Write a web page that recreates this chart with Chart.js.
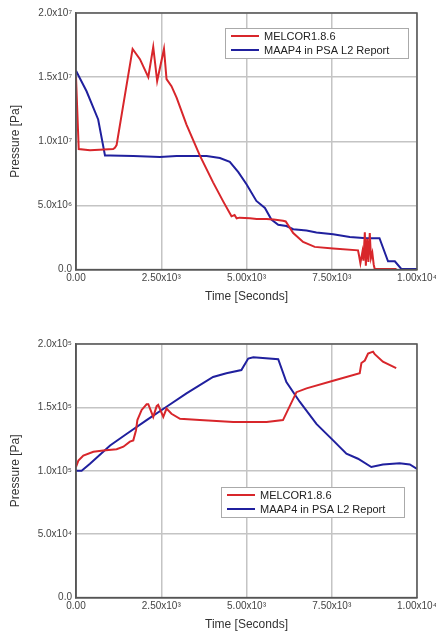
<!DOCTYPE html>
<html>
<head>
<meta charset="utf-8">
<script src="https://cdn.jsdelivr.net/npm/chart.js@4"></script>
<style>
  html, body { margin: 0; padding: 0; background: #fff; }
  .box { position: absolute; left: 0; width: 436px; }
  #top { top: 0; height: 310px; }
  #bottom { top: 320px; height: 314px; }
</style>
</head>
<body>
<div class="box" id="top"><canvas id="chartTop"></canvas></div>
<div class="box" id="bottom"><canvas id="chartBottom"></canvas></div>
<script>
// series names
const seriesNames = ['MELCOR1.8.6', 'MAAP4 in PSA L2 Report'];

// x tick labels (0, 2500, 5000, 7500, 10000)
const xTickValues = [0, 2500, 5000, 7500, 10000];
const xTickLabels = ['0.00', '2.50x10³', '5.00x10³', '7.50x10³', '1.00x10⁴'];

// top chart: pressure [Pa]
const topYTickValues = [0, 5e6, 1e7, 1.5e7, 2e7];
const topYTickLabels = ['0.0', '5.0x10⁶', '1.0x10⁷', '1.5x10⁷', '2.0x10⁷'];

const topMelcorTime = [0, 80, 410, 1090, 1140, 1190, 1660, 1875, 2120, 2265, 2380, 2580, 2655, 2800, 2950,
  3240, 3630, 4020, 4320, 4560, 4650, 4710, 4800, 5100, 5300, 5590, 5800, 6070, 6150, 6370, 6660, 7000, 7540,
  8270, 8300, 8340, 8400, 8430, 8470, 8500, 8540, 8575, 8615, 8650, 8690, 8730, 8760, 9000, 9400];
const topMelcorValue = [1.5e7, 9.4e6, 9.3e6, 9.4e6, 9.5e6, 9.7e6, 1.72e7, 1.64e7, 1.5e7, 1.735e7, 1.47e7, 1.72e7, 1.485e7, 1.43e7, 1.34e7,
  1.13e7, 8.9e6, 6.8e6, 5.3e6, 4.15e6, 4.25e6, 4.0e6, 4.05e6, 4.0e6, 3.95e6, 3.95e6, 3.9e6, 3.8e6, 3.75e6, 2.85e6, 2.15e6, 1.77e6, 1.65e6,
  1.5e6, 1.1e6, 0.5e6, 1.4e6, 0.7e6, 2.9e6, 0.3e6, 2.4e6, 0.6e6, 2.85e6, 0.9e6, 1.3e6, 0.4e6, 0.05e6, 0.05e6, 0.05e6];

const topMaapTime = [0, 310, 650, 850, 1000, 1680, 2460, 2950, 3830, 4220, 4510, 4760, 5000, 5290, 5540, 5730,
  5930, 6170, 6370, 6760, 7050, 7540, 8030, 8520, 8900, 9150, 9350, 9540, 10000];
const topMaapValue = [1.55e7, 1.39e7, 1.17e7, 8.9e6, 8.9e6, 8.85e6, 8.77e6, 8.85e6, 8.85e6, 8.7e6, 8.4e6, 7.6e6, 6.65e6, 5.35e6, 4.8e6, 3.9e6,
  3.5e6, 3.4e6, 3.15e6, 3.05e6, 2.9e6, 2.75e6, 2.55e6, 2.45e6, 2.45e6, 0.65e6, 0.65e6, 0.05e6, 0.05e6];

// bottom chart: pressure [Pa]
const bottomYTickValues = [0, 5e4, 1e5, 1.5e5, 2e5];
const bottomYTickLabels = ['0.0', '5.0x10⁴', '1.0x10⁵', '1.5x10⁵', '2.0x10⁵'];

const bottomMelcorTime = [0, 70, 215, 510, 800, 1190, 1390, 1580, 1680, 1760, 1800, 1925, 2070, 2120, 2265, 2365, 2410,
  2560, 2655, 2800, 3050, 3630, 4610, 5590, 6070, 6465, 6760, 7540, 8320, 8370, 8470, 8565, 8710, 8760, 9000, 9390];
const bottomMelcorValue = [1.03e5, 1.08e5, 1.12e5, 1.15e5, 1.16e5, 1.17e5, 1.19e5, 1.23e5, 1.24e5, 1.32e5, 1.4e5, 1.48e5, 1.525e5, 1.525e5, 1.425e5, 1.51e5, 1.52e5,
  1.425e5, 1.49e5, 1.45e5, 1.41e5, 1.4e5, 1.385e5, 1.385e5, 1.4e5, 1.62e5, 1.65e5, 1.71e5, 1.77e5, 1.85e5, 1.87e5, 1.925e5, 1.94e5, 1.92e5, 1.86e5, 1.81e5];

const bottomMaapTime = [0, 165, 410, 1000, 1480, 2070, 2655, 3240, 4020, 4410, 4850, 5050, 5200, 5930, 6170, 6560,
  7050, 7540, 7930, 8270, 8660, 9000, 9490, 9790, 10000];
const bottomMaapValue = [1.0e5, 1.0e5, 1.055e5, 1.2e5, 1.29e5, 1.4e5, 1.505e5, 1.61e5, 1.74e5, 1.77e5, 1.795e5, 1.885e5, 1.895e5, 1.88e5, 1.7e5, 1.545e5,
  1.37e5, 1.24e5, 1.135e5, 1.095e5, 1.03e5, 1.05e5, 1.06e5, 1.05e5, 1.015e5];

const RED = '#d8262b';
const BLUE = '#20209e';
const FONT = 'Arial, "Liberation Sans", sans-serif';

function toPoints(xs, ys) {
  return xs.map((x, i) => ({ x: x, y: ys[i] }));
}

// draws the boxed legend inside the plot area
const boxLegend = {
  id: 'boxLegend',
  afterDatasetsDraw(chart, args, opts) {
    const ctx = chart.ctx;
    const a = chart.chartArea;
    const x = a.left + opts.dx, y = a.top + opts.dy;
    ctx.save();
    ctx.fillStyle = '#fff';
    ctx.fillRect(x, y, opts.w, opts.h);
    ctx.strokeStyle = '#aaa';
    ctx.lineWidth = 1;
    ctx.strokeRect(x + 0.5, y + 0.5, opts.w, opts.h);
    ctx.font = '11px ' + FONT;
    ctx.textBaseline = 'middle';
    chart.data.datasets.forEach((ds, i) => {
      const ry = y + 8 + i * 14;
      ctx.strokeStyle = ds.borderColor;
      ctx.lineWidth = 2;
      ctx.beginPath();
      ctx.moveTo(x + 6, ry);
      ctx.lineTo(x + 34, ry);
      ctx.stroke();
      ctx.fillStyle = '#222';
      ctx.fillText(ds.label, x + 39, ry + 1);
    });
    ctx.restore();
  }
};

function makeChart(id, melcor, maap, yTicks, yLabels, yMax, pad, legendPos) {
  new Chart(document.getElementById(id), {
    type: 'line',
    data: {
      datasets: [
        { label: seriesNames[0], data: melcor, borderColor: RED, borderWidth: 2, pointRadius: 0, tension: 0 },
        { label: seriesNames[1], data: maap, borderColor: BLUE, borderWidth: 2, pointRadius: 0, tension: 0 }
      ]
    },
    options: {
      responsive: true,
      maintainAspectRatio: false,
      animation: false,
      layout: { padding: pad },
      plugins: {
        legend: { display: false },
        tooltip: { enabled: false },
        boxLegend: legendPos
      },
      scales: {
        x: {
          type: 'linear',
          min: 0,
          max: 10000,
          afterBuildTicks: s => { s.ticks = xTickValues.map(v => ({ value: v })); },
          afterFit: s => { s.paddingLeft = 0; s.paddingRight = 0; },
          ticks: {
            autoSkip: false,
            maxRotation: 0,
            color: '#444',
            font: { size: 10, family: FONT },
            padding: 3,
            callback: (v) => xTickLabels[xTickValues.indexOf(v)]
          },
          grid: { color: '#c4c4c4', lineWidth: 1.5, drawTicks: false },
          border: { color: '#555', width: 1.5 },
          title: {
            display: true,
            text: 'Time [Seconds]',
            color: '#333',
            font: { size: 12, family: FONT },
            padding: { top: 2, bottom: 0 }
          }
        },
        y: {
          min: 0,
          max: yMax,
          afterBuildTicks: s => { s.ticks = yTicks.map(v => ({ value: v })); },
          afterFit: s => { s.width = 76; },
          ticks: {
            color: '#444',
            font: { size: 10, family: FONT },
            padding: 4,
            callback: (v) => yLabels[yTicks.indexOf(v)]
          },
          grid: { color: '#c4c4c4', lineWidth: 1.5, drawTicks: false },
          border: { color: '#555', width: 1.5 },
          title: {
            display: true,
            text: 'Pressure [Pa]',
            color: '#333',
            font: { size: 12, family: FONT },
            padding: { top: 8, bottom: 0 }
          }
        }
      }
    },
    plugins: [boxLegend, {
      id: 'frame',
      afterDatasetsDraw(chart) {
        const a = chart.chartArea, ctx = chart.ctx;
        ctx.save();
        ctx.strokeStyle = '#555';
        ctx.lineWidth = 1.5;
        ctx.strokeRect(a.left, a.top, a.right - a.left, a.bottom - a.top);
        ctx.restore();
      }
    }]
  });
}

makeChart('chartTop',
  toPoints(topMelcorTime, topMelcorValue),
  toPoints(topMaapTime, topMaapValue),
  topYTickValues, topYTickLabels, 2e7,
  { left: 0, right: 19, top: 13, bottom: 6 },
  { dx: 149, dy: 15, w: 183, h: 30 });

makeChart('chartBottom',
  toPoints(bottomMelcorTime, bottomMelcorValue),
  toPoints(bottomMaapTime, bottomMaapValue),
  bottomYTickValues, bottomYTickLabels, 2e5,
  { left: 0, right: 19, top: 24, bottom: 2 },
  { dx: 145, dy: 143, w: 183, h: 30 });
</script>
</body>
</html>
